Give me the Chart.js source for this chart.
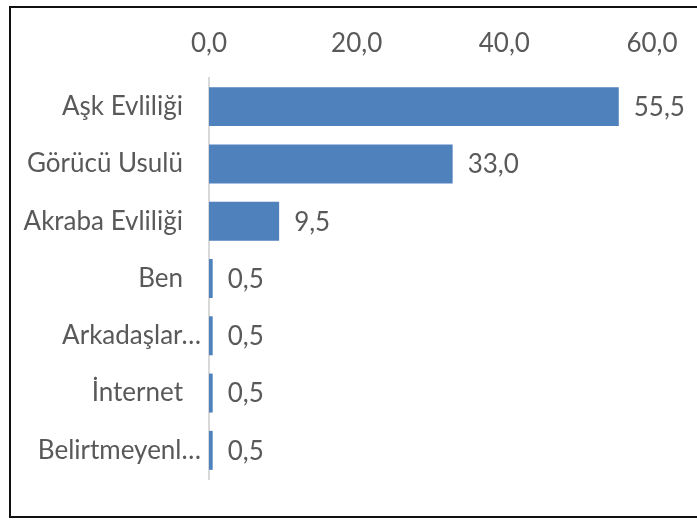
<!DOCTYPE html>
<html>
<head>
<meta charset="utf-8">
<script src="https://cdn.jsdelivr.net/npm/chart.js@4/dist/chart.umd.min.js"></script>
<style>
    html, body { margin: 0; padding: 0; background: #fff; }
    #wrap { position: relative; width: 697px; height: 520px; }
    #frame {
        position: absolute; left: 9px; top: 6px; width: 700px; height: 508px;
        border: 2px solid #111; box-sizing: content-box;
    }
    canvas { position: absolute; left: 0; top: 0; }
</style>
</head>
<body>
<div id="wrap">
    <div id="frame"></div>
    <canvas id="chart" width="697" height="520"></canvas>
</div>
<script>
const categories = [
    'Aşk Evliliği', 'Görücü Usulü', 'Akraba Evliliği', 'Ben',
    'Arkadaşlar…', 'İnternet', 'Belirtmeyenl…'
];
const values = [55.5, 33.0, 9.5, 0.5, 0.5, 0.5, 0.5];
const tickValues = [0, 20, 40, 60];

const textColor = '#595959';
const fontFamily = 'Lato, "Noto Sans", sans-serif';
const fontSize = 26;
const toCommaText = (v) => Number(v).toFixed(1).replace('.', ',');

// category labels: cut-off names run their ellipsis closer to the axis, like Excel does
const categoryLabels = {
    id: 'categoryLabels',
    afterDraw(chart) {
        const { ctx } = chart;
        const yScale = chart.scales.y;
        ctx.save();
        ctx.font = `${fontSize}px ${fontFamily}`;
        ctx.fillStyle = textColor;
        ctx.textAlign = 'right';
        ctx.textBaseline = 'middle';
        categories.forEach((label, i) => {
            const right = yScale.right - (label.endsWith('…') ? 8 : 26);
            ctx.fillText(label, right, yScale.getPixelForTick(i));
        });
        ctx.restore();
    }
};

const valueLabels = {
    id: 'valueLabels',
    afterDatasetsDraw(chart) {
        const { ctx } = chart;
        const meta = chart.getDatasetMeta(0);
        ctx.save();
        ctx.font = `${fontSize}px ${fontFamily}`;
        ctx.fillStyle = textColor;
        ctx.textAlign = 'left';
        ctx.textBaseline = 'middle';
        meta.data.forEach((bar, i) => {
            ctx.fillText(toCommaText(values[i]), bar.x + 15, bar.y + 1);
        });
        ctx.restore();
    }
};

new Chart(document.getElementById('chart'), {
    type: 'bar',
    data: {
        labels: categories,
        datasets: [{
            data: values,
            backgroundColor: '#4f81bd',
            borderWidth: 0,
            barPercentage: 0.68,
            categoryPercentage: 1
        }]
    },
    options: {
        indexAxis: 'y',
        responsive: false,
        animation: false,
        layout: { padding: { top: 0, right: 45, bottom: 41, left: 0 } },
        plugins: { legend: { display: false }, tooltip: { enabled: false } },
        scales: {
            x: {
                position: 'top',
                min: 0,
                max: 60,
                afterBuildTicks: (scale) => { scale.ticks = tickValues.map((v) => ({ value: v })); },
                afterFit: (scale) => { scale.height = 78; },
                grid: { display: false, drawTicks: false },
                border: { display: false },
                ticks: {
                    color: textColor,
                    font: { size: fontSize, family: fontFamily },
                    padding: 19,
                    callback: (v) => toCommaText(v)
                }
            },
            y: {
                afterFit: (scale) => { scale.width = 209; },
                grid: { display: false, drawTicks: false },
                border: { display: true, color: '#d9d9d9', width: 2 },
                ticks: { display: false }
            }
        }
    },
    plugins: [valueLabels, categoryLabels]
});
</script>
</body>
</html>
